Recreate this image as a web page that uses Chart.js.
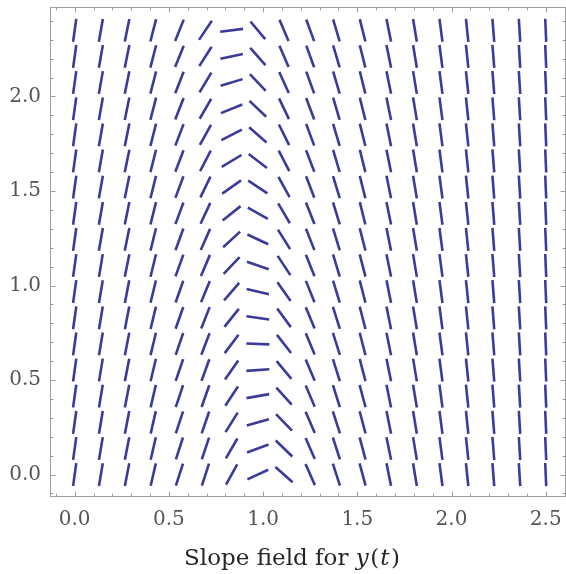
<!DOCTYPE html>
<html>
<head>
<meta charset="utf-8">
<script src="https://cdn.jsdelivr.net/npm/chart.js@4"></script>
<style>
html,body{margin:0;padding:0;background:#fff;}
#wrap{width:566px;height:574px;}
</style>
</head>
<body>
<div id="wrap"><canvas id="slopeChart" width="566" height="574"></canvas></div>
<script>
/* ===== slope field data ===== */

// grid of sample points
const tValues=[0,0.139,0.278,0.417,0.556,0.694,0.833,0.972,1.111,1.25,1.389,1.528,1.667,1.806,1.944,2.083,2.222,2.361,2.5];
const yValues=[0,0.138,0.276,0.415,0.553,0.691,0.829,0.968,1.106,1.244,1.382,1.521,1.659,1.797,1.935,2.074,2.212,2.35];

// segment direction in degrees, one array per t column, from y=0 upward
const angleT000=[82,82,82,82,82,82,82,82,82,82,82,82,82,82,82,82,82,82];
const angleT014=[80.5,80.5,80.5,80.5,80.5,80.5,80.5,80.5,80.5,80,80,80,80,80,80,80,80,80];
const angleT028=[79,79,79,79,79,79,79,79,78.5,78.5,78.5,78.5,78.5,78.5,78.5,78.5,78.5,78.5];
const angleT042=[77,77,77,76.8,76.6,76.5,76.4,76.3,76.2,76,76,75.9,75.8,75.7,75.6,75.5,75.5,75.5];
const angleT056=[72,72,71.5,71.5,71,71,70.5,70.5,70,70,69.5,69.5,69,69,68.5,68.5,68,68];
const angleT069=[72,71.5,71,70.5,70,69,68.5,67.5,67,66,65,64,62.5,61,60,59,57.5,56];
const angleT083=[61,60,58,56.5,55,53,51,49,46,42.5,38.5,35,31,27,22,17,12,7];
const angleT097=[25,20.5,16,10,4,-2,-8,-13,-18.5,-25,-29.5,-33.5,-37.5,-41,-43.5,-46.5,-48.5,-50];
const angleT111=[-41.5,-44,-46,-48,-50,-52,-53.5,-55,-56.5,-58,-59.5,-61,-62.5,-63.5,-64.5,-65.5,-66.5,-67];
const angleT125=[-66,-66.5,-66.5,-67,-67,-67.5,-67.5,-68,-68,-68.5,-68.5,-69,-69,-69.5,-69.5,-70,-70,-70];
const angleT139=[-72,-72,-72,-72.5,-72.5,-72.5,-72.5,-73,-73,-73,-73,-73,-73.5,-73.5,-73.5,-73.5,-73.5,-73.5];
const angleT153=[-75,-75,-75,-75,-75.5,-75.5,-75.5,-75.5,-75.5,-75.5,-76,-76,-76,-76,-76,-76,-76,-76];
const angleT167=[-78.5,-78.5,-78.5,-78.5,-78.5,-78.5,-78.5,-78.5,-78.5,-78.5,-78.5,-78.5,-78.5,-78.5,-78.5,-78.5,-78.5,-78.5];
const angleT181=[-80.5,-80.5,-80.5,-80.5,-80.5,-80.5,-80.5,-80.5,-80.5,-80.5,-80.5,-80.5,-80.5,-80.5,-80.5,-80.5,-80.5,-80.5];
const angleT194=[-82.5,-82.5,-82.5,-82.5,-82.5,-82.5,-82.5,-82.5,-82.5,-82.5,-82.5,-82.5,-82.5,-82.5,-82.5,-82.5,-82.5,-82.5];
const angleT208=[-84,-84,-84,-84,-84,-84,-84,-84,-84,-84,-84,-84,-84,-84,-84,-84,-84,-84];
const angleT222=[-85.5,-85.5,-85.5,-85.5,-85.5,-85.5,-85.5,-85.5,-85.5,-85.5,-85.5,-85.5,-85.5,-85.5,-85.5,-85.5,-85.5,-85.5];
const angleT236=[-86.5,-86.5,-86.5,-86.5,-86.5,-86.5,-86.5,-86.5,-86.5,-86.5,-86.5,-86.5,-86.5,-86.5,-86.5,-86.5,-86.5,-86.5];
const angleT250=[-87.5,-87.5,-87.5,-87.5,-87.5,-87.5,-87.5,-87.5,-87.5,-87.5,-87.5,-87.5,-87.5,-87.5,-87.5,-87.5,-87.5,-87.5];

const angleCols=[angleT000,angleT014,angleT028,angleT042,angleT056,angleT069,angleT083,angleT097,angleT111,angleT125,
angleT139,angleT153,angleT167,angleT181,angleT194,angleT208,angleT222,angleT236,angleT250];

// axis ticks
const xTicks=[0,0.5,1,1.5,2,2.5];
const xTickLabels=["0.0","0.5","1.0","1.5","2.0","2.5"];
const yTicks=[0,0.5,1,1.5,2];
const yTickLabels=["0.0","0.5","1.0","1.5","2.0"];

/* ===== build segments ===== */

const halfLen=0.061; // half segment length, data units
const segmentPoints=[];
tValues.forEach((t,i)=>{
yValues.forEach((y,j)=>{
const a=angleCols[i][j]*Math.PI/180;
segmentPoints.push({x:t-halfLen*Math.cos(a),y:y-halfLen*Math.sin(a)});
segmentPoints.push({x:t+halfLen*Math.cos(a),y:y+halfLen*Math.sin(a)});
segmentPoints.push({x:t,y:null});
});
});

/* ===== frame with inward ticks ===== */

const framePlugin={
id:"frame",
afterDraw(chart){
const {ctx,chartArea:a,scales}=chart;
const L=Math.round(a.left)+0.5,R=Math.round(a.right)-0.5,T=Math.round(a.top)+0.5,B=Math.round(a.bottom)-0.5;
ctx.save();
ctx.strokeStyle="#9e9e9e";
ctx.lineWidth=1;
ctx.strokeRect(L,T,R-L,B-T);
ctx.beginPath();
for(let i=-2;i<=27;i++){
const px=Math.round(scales.x.getPixelForValue(i/10))+0.5;
if(px<L||px>R) continue;
const len=i%5===0?5:3;
ctx.moveTo(px,B);ctx.lineTo(px,B-len);
ctx.moveTo(px,T);ctx.lineTo(px,T+len);
}
for(let i=-2;i<=25;i++){
const py=Math.round(scales.y.getPixelForValue(i/10))+0.5;
if(py<T||py>B) continue;
const len=i%5===0?5:3;
ctx.moveTo(L,py);ctx.lineTo(L+len,py);
ctx.moveTo(R,py);ctx.lineTo(R-len,py);
}
ctx.stroke();
ctx.restore();
}
};

/* ===== axis label with italic variables ===== */

const labelPlugin={
id:"bottomLabel",
afterDraw(chart){
const ctx=chart.ctx;
const parts=[["Slope field for ",""],["y","italic "],["(",""],["t","italic "],[")",""]];
const gap=[0,1.5,1,1.5,0];
ctx.save();
ctx.fillStyle="#262626";
ctx.textBaseline="alphabetic";
let w=0;
parts.forEach((p,i)=>{ctx.font=p[1]+"23px 'DejaVu Serif'";w+=ctx.measureText(p[0]).width+gap[i];});
let x=292-w/2;
parts.forEach((p,i)=>{
ctx.font=p[1]+"23px 'DejaVu Serif'";
ctx.fillText(p[0],x,565);
x+=ctx.measureText(p[0]).width+gap[i];
});
ctx.restore();
}
};

// keep the plot box where the frame is, no extra room for edge labels
function noEdgePadding(s){
s.paddingTop=0;s.paddingBottom=0;s.paddingLeft=0;s.paddingRight=0;
}

/* ===== chart ===== */

const tickFont={family:"'DejaVu Serif'",size:20};

new Chart(document.getElementById("slopeChart"),{
type:"scatter",
data:{
datasets:[{
data:segmentPoints,
showLine:true,
spanGaps:false,
borderColor:"#3b3b9b",
borderWidth:2.6,
borderCapStyle:"butt",
pointRadius:0,
pointHoverRadius:0
}]
},
options:{
responsive:false,
animation:false,
events:[],
layout:{padding:{top:6.5,right:0.5,left:0,bottom:0}},
plugins:{legend:{display:false},tooltip:{enabled:false}},
scales:{
x:{
type:"linear",
min:-0.131,
max:2.605,
grid:{display:false,drawTicks:false},
border:{display:false},
afterBuildTicks:s=>{s.ticks=xTicks.map(v=>({value:v}));},
afterFit:s=>{s.height=77.5;noEdgePadding(s);},
ticks:{
callback:(v,i)=>xTickLabels[i],
font:tickFont,
color:"#555",
padding:11,
autoSkip:false,
maxRotation:0
}
},
y:{
type:"linear",
min:-0.116,
max:2.476,
grid:{display:false,drawTicks:false},
border:{display:false},
afterBuildTicks:s=>{s.ticks=yTicks.map(v=>({value:v}));},
afterFit:s=>{s.width=50;noEdgePadding(s);},
ticks:{
callback:(v,i)=>yTickLabels[i],
font:tickFont,
color:"#555",
padding:9,
autoSkip:false
}
}
}
},
plugins:[framePlugin,labelPlugin]
});
</script>
</body>
</html>
